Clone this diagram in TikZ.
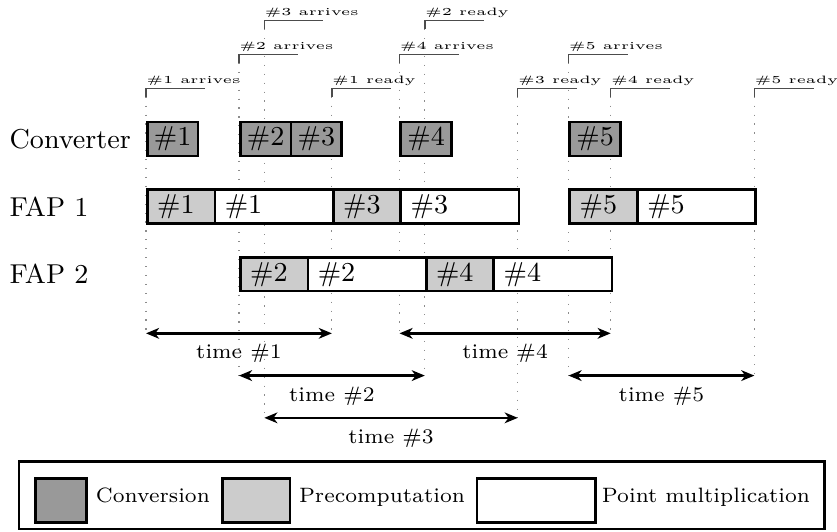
\documentclass[tikz,border=0pt]{standalone}
\usetikzlibrary{arrows.meta}
\newcommand\toplab[1]{\scalebox{1.4}[1]{\fontsize{3.6}{4.3}\selectfont #1}}
\newcommand\evt[5]{%
  \coordinate (#1b) at (#2,#3+0.25);
  \coordinate (#1c) at (#2,#3);
  \draw[dotline] (#1b) -- (#5);
  \draw[bracket] (#1b) -- (#1c) -- ++(1.75,0);
  \node[evlabel] (#1t) at (#1c) {\toplab{#4}};
}
\begin{document}
\begin{tikzpicture}[x=0.4cm,y=-0.4cm,
  box/.style={draw=black, line width=0.9pt, minimum height=0.4cm, inner ysep=0pt, anchor=west, font=\fontsize{9.2}{11}\selectfont},
  convbox/.style={box, fill=black!40, minimum width=0.6cm, inner xsep=0pt},
  prebox/.style={box, fill=black!20, inner xsep=3.33pt, text width=16.1pt, align=left},
  pmbox/.style={box, fill=white, inner xsep=3.33pt, text width=33.16pt, align=left},
  rowlab/.style={anchor=west, inner sep=0pt, font=\fontsize{9.2}{11}\selectfont},
  dotline/.style={black!45, line width=0.4pt, dash pattern=on 0.4pt off 2.6pt},
  bracket/.style={black!70, line width=0.45pt},
  evlabel/.style={anchor=base west, inner sep=0pt, yshift=1.7pt},
  timearrow/.style={thick, {Stealth[length=4.4pt,width=3.6pt,inset=1.3pt]}-{Stealth[length=4.4pt,width=3.6pt,inset=1.3pt]}},
  timelab/.style={below, font=\scriptsize},
  swatch/.style={draw, line width=0.9pt, minimum height=0.52cm, inner sep=0pt, anchor=north west},
  legtext/.style={anchor=base west, inner sep=0pt, font=\scriptsize}
]
\useasboundingbox (-4.3195,-4.112) rectangle (20.444,11.598);

% arrow end points
\coordinate (t1s) at (0,5.75);    \coordinate (t1e) at (5.5,5.75);
\coordinate (t2s) at (2.75,7);    \coordinate (t2e) at (8.25,7);
\coordinate (t3s) at (3.5,8.25);  \coordinate (t3e) at (11,8.25);
\coordinate (t4s) at (7.5,5.75);  \coordinate (t4e) at (13.75,5.75);
\coordinate (t5s) at (12.5,7);    \coordinate (t5e) at (18,7);

% events
\evt{a1}{0}{-1.5}{\#1 arrives}{t1s}
\evt{a2}{2.75}{-2.5}{\#2 arrives}{t2s}
\evt{a3}{3.5}{-3.5}{\#3 arrives}{t3s}
\evt{r1}{5.5}{-1.5}{\#1 ready}{t1e}
\evt{a4}{7.5}{-2.5}{\#4 arrives}{t4s}
\evt{r2}{8.25}{-3.5}{\#2 ready}{t2e}
\evt{r3}{11}{-1.5}{\#3 ready}{t3e}
\evt{a5}{12.5}{-2.5}{\#5 arrives}{t5s}
\evt{r4}{13.75}{-1.5}{\#4 ready}{t4e}
\evt{r5}{18}{-1.5}{\#5 ready}{t5e}

% row labels
\node[rowlab] (lconv) at (-4.05,0) {Converter};
\node[rowlab] (lf1) at (-4.05,2) {FAP 1};
\node[rowlab] (lf2) at (-4.05,4) {FAP 2};

% converter
\node[convbox] (c1) at (0,0) {\#1};
\node[convbox] (c2) at (2.75,0) {\#2};
\node[convbox] (c3) at (4.25,0) {\#3};
\node[convbox] (c4) at (7.5,0) {\#4};
\node[convbox] (c5) at (12.5,0) {\#5};
% FAP 1
\node[prebox] (p1) at (0,2) {\#1};
\node[pmbox] (m1) at (2,2) {\#1};
\node[prebox] (p3) at (5.5,2) {\#3};
\node[pmbox] (m3) at (7.5,2) {\#3};
\node[prebox] (p5) at (12.5,2) {\#5};
\node[pmbox] (m5) at (14.5,2) {\#5};
% FAP 2
\node[prebox] (p2) at (2.75,4) {\#2};
\node[pmbox] (m2) at (4.75,4) {\#2};
\node[prebox] (p4) at (8.25,4) {\#4};
\node[pmbox] (m4) at (10.25,4) {\#4};

% time arrows
\draw[timearrow] (t1s) -- node[timelab] (tl1) {time \#1} (t1e);
\draw[timearrow] (t2s) -- node[timelab] (tl2) {time \#2} (t2e);
\draw[timearrow] (t3s) -- node[timelab] (tl3) {time \#3} (t3e);
\draw[timearrow] (t4s) -- node[timelab] (tl4) {time \#4} (t4e);
\draw[timearrow] (t5s) -- node[timelab] (tl5) {time \#5} (t5e);

% legend
\node[draw, line width=0.9pt, minimum width=9.532cm, minimum height=0.8cm, anchor=north west, inner sep=0pt] (legend) at (-3.8,9.5) {};
\node[swatch, fill=black!40, minimum width=0.6cm] (sw1) at (-3.3,10) {};
\node[legtext] (lt1) at (-1.5,10.75) {Conversion};
\node[swatch, fill=black!20, minimum width=0.8cm] (sw2) at (2.22,10) {};
\node[legtext] (lt2) at (4.51,10.75) {Precomputation};
\node[swatch, fill=white, minimum width=1.4cm] (sw3) at (9.75,10) {};
\node[legtext] (lt3) at (13.47,10.75) {Point multiplication};
\end{tikzpicture}
\end{document}
